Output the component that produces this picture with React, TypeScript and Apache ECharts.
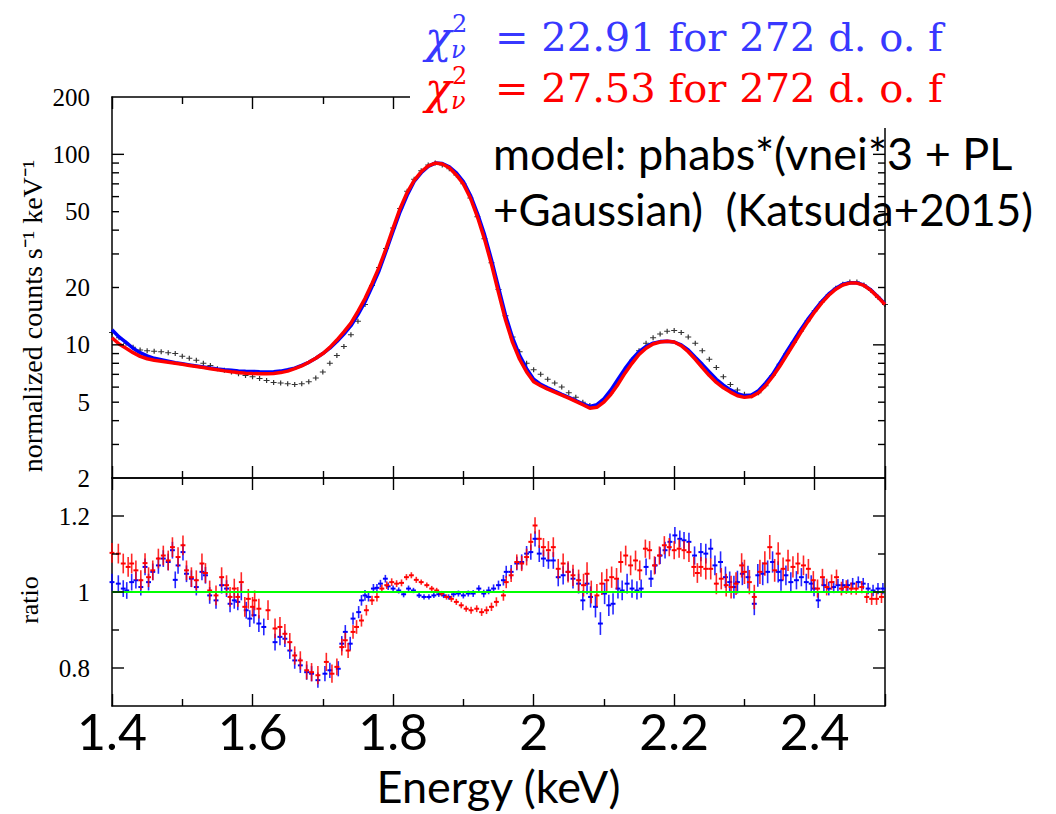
import React, { useEffect, useRef } from "react";
import * as echarts from "echarts";

const E_MIN = 1.4;
const E_MAX = 2.5;

// Energy grid of the spectrum bins (keV)
const spectrumEnergy = [
  1.40, 1.41, 1.42, 1.43, 1.44, 1.45, 1.46, 1.47, 1.48, 1.49,
  1.50, 1.51, 1.52, 1.53, 1.54, 1.55, 1.56, 1.57, 1.58, 1.59,
  1.60, 1.61, 1.62, 1.63, 1.64, 1.65, 1.66, 1.67, 1.68, 1.69,
  1.70, 1.71, 1.72, 1.73, 1.74, 1.75, 1.76, 1.77, 1.78, 1.79,
  1.80, 1.81, 1.82, 1.83, 1.84, 1.85, 1.86, 1.87, 1.88, 1.89,
  1.90, 1.91, 1.92, 1.93, 1.94, 1.95, 1.96, 1.97, 1.98, 1.99,
  2.00, 2.01, 2.02, 2.03, 2.04, 2.05, 2.06, 2.07, 2.08, 2.09,
  2.10, 2.11, 2.12, 2.13, 2.14, 2.15, 2.16, 2.17, 2.18, 2.19,
  2.20, 2.21, 2.22, 2.23, 2.24, 2.25, 2.26, 2.27, 2.28, 2.29,
  2.30, 2.31, 2.32, 2.33, 2.34, 2.35, 2.36, 2.37, 2.38, 2.39,
  2.40, 2.41, 2.42, 2.43, 2.44, 2.45, 2.46, 2.47, 2.48, 2.49,
  2.50,
];

// Observed data (black), normalized counts s^-1 keV^-1
const observedCounts = [
  11.6, 10.9, 10.2, 9.7, 9.4, 9.3, 9.25, 9.2, 9.1, 9.0,
  8.7, 8.5, 8.3, 8.0, 7.8, 7.5, 7.35, 7.2, 7.05, 6.9,
  6.8, 6.65, 6.5, 6.35, 6.3, 6.25, 6.2, 6.25, 6.4, 6.7,
  7.2, 8.0, 8.8, 9.8, 11.3, 13.3, 16.3, 20.5, 25.5, 32,
  41, 52, 64, 74, 82, 88, 90, 88, 84, 78,
  70, 59, 47, 36, 27, 19.5, 14.2, 11, 9.2, 8.0,
  7.4, 7.0, 6.6, 6.3, 6.0, 5.6, 5.3, 5.0, 4.8, 4.8,
  5.1, 5.6, 6.4, 7.3, 8.3, 9.3, 10.2, 10.9, 11.4, 11.8,
  11.9, 11.6, 11.0, 10.2, 9.3, 8.4, 7.6, 6.8, 6.2, 5.8,
  5.5, 5.4, 5.6, 6.1, 6.9, 7.9, 9.0, 10.3, 11.8, 13.4,
  15.1, 16.8, 18.4, 19.8, 20.8, 21.4, 21.4, 20.6, 19.3, 17.8,
  16.3,
];

// Blue model
const blueModel = [
  12.0, 11.0, 10.3, 9.6, 9.1, 8.75, 8.5, 8.35, 8.2, 8.05,
  7.95, 7.85, 7.75, 7.65, 7.55, 7.47, 7.4, 7.35, 7.3, 7.27,
  7.25, 7.22, 7.2, 7.22, 7.28, 7.4, 7.55, 7.8, 8.1, 8.5,
  9.0, 9.6, 10.4, 11.4, 12.6, 14.4, 16.8, 20.2, 24.5, 31,
  39.5, 50, 61, 72, 80, 86.5, 90, 89.5, 86, 80,
  72, 61, 49, 38, 28, 20, 14.3, 10.9, 8.8, 7.5,
  6.6, 6.2, 5.95, 5.72, 5.5, 5.3, 5.1, 4.9, 4.75, 4.85,
  5.2, 5.8, 6.6, 7.5, 8.4, 9.2, 9.8, 10.2, 10.4, 10.45,
  10.35, 10.0, 9.4, 8.6, 7.9, 7.2, 6.6, 6.15, 5.8, 5.55,
  5.4, 5.45, 5.75, 6.3, 7.0, 8.0, 9.2, 10.5, 12.0, 13.6,
  15.2, 16.9, 18.5, 19.8, 20.8, 21.2, 21.2, 20.6, 19.4, 17.9,
  16.4,
];

// Red model
const redModel = [
  10.9, 10.1, 9.6, 9.1, 8.7, 8.45, 8.3, 8.2, 8.1, 8.0,
  7.9, 7.8, 7.7, 7.6, 7.5, 7.4, 7.3, 7.22, 7.15, 7.1,
  7.07, 7.05, 7.05, 7.08, 7.15, 7.28, 7.5, 7.75, 8.1, 8.5,
  9.0, 9.7, 10.6, 11.7, 13.0, 15.0, 17.5, 21, 25.5, 32,
  41, 52, 63, 73, 81, 87, 90, 89, 85, 78,
  70, 59, 47, 36, 26.5, 18.8, 13.5, 10.3, 8.4, 7.2,
  6.4, 6.1, 5.85, 5.65, 5.45, 5.25, 5.05, 4.85, 4.65, 4.7,
  5.0, 5.5, 6.2, 7.1, 8.0, 8.9, 9.6, 10.1, 10.35, 10.45,
  10.35, 9.9, 9.2, 8.4, 7.6, 6.9, 6.35, 5.95, 5.65, 5.4,
  5.3, 5.35, 5.6, 6.1, 6.8, 7.7, 8.8, 10.1, 11.6, 13.2,
  14.9, 16.6, 18.2, 19.6, 20.6, 21.1, 21.1, 20.5, 19.3, 17.8,
  16.3,
];

// Ratio points: [energy (keV), ratio, error]
const blueRatio = [
  [1.400, 1.026, 0.022], [1.409, 1.022, 0.022], [1.416, 1.009, 0.022], [1.421, 1.004, 0.022],
  [1.428, 1.026, 0.022], [1.434, 1.031, 0.022], [1.441, 1.013, 0.022], [1.447, 1.066, 0.022],
  [1.452, 1.026, 0.022], [1.458, 1.053, 0.022], [1.466, 1.070, 0.022], [1.473, 1.088, 0.022],
  [1.480, 1.079, 0.022], [1.486, 1.110, 0.022], [1.490, 1.032, 0.022], [1.494, 1.070, 0.022],
  [1.501, 1.105, 0.022], [1.506, 1.048, 0.022], [1.513, 1.035, 0.022], [1.520, 1.013, 0.022],
  [1.528, 1.053, 0.022], [1.533, 1.044, 0.022], [1.539, 0.991, 0.022], [1.548, 0.978, 0.022],
  [1.556, 1.018, 0.022], [1.563, 1.009, 0.022], [1.568, 0.969, 0.022], [1.574, 0.978, 0.022],
  [1.579, 0.974, 0.022], [1.584, 1.000, 0.022], [1.591, 0.952, 0.022], [1.596, 0.930, 0.022],
  [1.602, 0.939, 0.022], [1.609, 0.917, 0.022], [1.616, 0.908, 0.022], [1.632, 0.868, 0.022],
  [1.639, 0.882, 0.022], [1.646, 0.877, 0.022], [1.653, 0.846, 0.022], [1.660, 0.820, 0.022],
  [1.668, 0.807, 0.02], [1.677, 0.789, 0.02], [1.684, 0.785, 0.02], [1.693, 0.768, 0.02],
  [1.703, 0.785, 0.02], [1.710, 0.794, 0.02], [1.722, 0.798, 0.02], [1.727, 0.864, 0.02],
  [1.732, 0.895, 0.018], [1.739, 0.864, 0.018], [1.743, 0.930, 0.016], [1.751, 0.947, 0.016],
  [1.755, 0.978, 0.014], [1.760, 0.991, 0.014], [1.765, 0.987, 0.012], [1.772, 1.009, 0.012],
  [1.777, 1.011, 0.01], [1.782, 1.022, 0.01], [1.789, 1.035, 0.01], [1.793, 1.015, 0.01],
  [1.800, 1.009, 0.008], [1.808, 1.004, 0.008], [1.815, 0.994, 0.008], [1.822, 1.009, 0.008],
  [1.829, 1.004, 0.007], [1.837, 0.991, 0.007], [1.844, 0.987, 0.007], [1.851, 0.987, 0.007],
  [1.858, 0.991, 0.007], [1.865, 0.994, 0.007], [1.872, 0.991, 0.007], [1.879, 0.987, 0.007],
  [1.886, 0.994, 0.008], [1.893, 0.996, 0.008], [1.900, 0.991, 0.008], [1.907, 0.996, 0.008],
  [1.914, 0.996, 0.009], [1.922, 1.009, 0.009], [1.929, 0.996, 0.01], [1.936, 1.004, 0.01],
  [1.943, 1.009, 0.011], [1.950, 1.018, 0.012], [1.957, 1.031, 0.014], [1.961, 1.053, 0.016],
  [1.968, 1.053, 0.018], [1.976, 1.075, 0.018], [1.983, 1.079, 0.02], [1.990, 1.101, 0.02],
  [1.996, 1.105, 0.02], [2.002, 1.140, 0.02], [2.008, 1.101, 0.022], [2.014, 1.088, 0.022],
  [2.021, 1.083, 0.022], [2.028, 1.083, 0.022], [2.035, 1.039, 0.024], [2.042, 1.044, 0.024],
  [2.049, 1.053, 0.024], [2.056, 1.035, 0.026], [2.064, 1.022, 0.026], [2.070, 0.978, 0.026],
  [2.076, 1.022, 0.028], [2.081, 0.987, 0.028], [2.088, 0.961, 0.028], [2.095, 0.917, 0.03],
  [2.101, 0.996, 0.028], [2.107, 0.965, 0.028], [2.113, 0.969, 0.028], [2.120, 1.009, 0.026],
  [2.126, 1.004, 0.026], [2.133, 1.022, 0.026], [2.140, 1.009, 0.024], [2.147, 1.004, 0.024],
  [2.153, 1.009, 0.024], [2.160, 1.066, 0.022], [2.167, 1.035, 0.022], [2.173, 1.070, 0.022],
  [2.180, 1.096, 0.022], [2.187, 1.110, 0.022], [2.194, 1.132, 0.022], [2.201, 1.149, 0.022],
  [2.208, 1.140, 0.022], [2.214, 1.136, 0.022], [2.221, 1.132, 0.024], [2.229, 1.096, 0.024],
  [2.238, 1.105, 0.024], [2.245, 1.101, 0.026], [2.252, 1.114, 0.026], [2.258, 1.070, 0.026],
  [2.266, 1.079, 0.028], [2.273, 1.039, 0.028], [2.279, 1.026, 0.028], [2.285, 1.013, 0.03],
  [2.290, 1.026, 0.03], [2.297, 1.048, 0.03], [2.305, 1.039, 0.03], [2.314, 0.969, 0.03],
  [2.319, 1.044, 0.03], [2.326, 1.048, 0.03], [2.333, 1.053, 0.03], [2.340, 1.079, 0.028],
  [2.348, 1.053, 0.028], [2.352, 1.031, 0.028], [2.359, 1.044, 0.026], [2.366, 1.026, 0.026],
  [2.374, 1.031, 0.024], [2.381, 1.039, 0.024], [2.388, 1.026, 0.022], [2.395, 1.022, 0.022],
  [2.399, 1.009, 0.02], [2.405, 0.978, 0.02], [2.413, 1.018, 0.018], [2.420, 1.009, 0.018],
  [2.427, 1.013, 0.016], [2.433, 1.018, 0.016], [2.440, 1.018, 0.016], [2.447, 1.018, 0.015],
  [2.454, 1.022, 0.015], [2.462, 1.026, 0.015], [2.469, 1.022, 0.015], [2.476, 1.009, 0.015],
  [2.483, 1.004, 0.015], [2.490, 1.009, 0.015], [2.497, 1.009, 0.015],
];

const redRatio = [
  [1.400, 1.103, 0.026], [1.409, 1.101, 0.026], [1.416, 1.075, 0.026], [1.423, 1.066, 0.026],
  [1.428, 1.075, 0.026], [1.434, 1.057, 0.026], [1.441, 1.031, 0.026], [1.447, 1.076, 0.026],
  [1.452, 1.039, 0.026], [1.458, 1.057, 0.026], [1.466, 1.088, 0.026], [1.473, 1.096, 0.026],
  [1.480, 1.083, 0.026], [1.486, 1.118, 0.026], [1.494, 1.092, 0.026], [1.501, 1.123, 0.026],
  [1.506, 1.057, 0.026], [1.513, 1.039, 0.026], [1.520, 1.031, 0.026], [1.528, 1.075, 0.026],
  [1.533, 1.050, 0.026], [1.539, 1.004, 0.026], [1.548, 0.991, 0.026], [1.556, 1.039, 0.026],
  [1.563, 1.018, 0.026], [1.568, 0.987, 0.026], [1.574, 1.009, 0.026], [1.579, 0.987, 0.026],
  [1.584, 1.026, 0.026], [1.589, 0.961, 0.026], [1.594, 0.982, 0.026], [1.600, 0.961, 0.026],
  [1.603, 0.978, 0.026], [1.609, 0.956, 0.026], [1.622, 0.952, 0.026], [1.632, 0.904, 0.026],
  [1.639, 0.908, 0.026], [1.646, 0.890, 0.026], [1.653, 0.868, 0.024], [1.660, 0.833, 0.024],
  [1.668, 0.820, 0.024], [1.677, 0.794, 0.024], [1.684, 0.789, 0.024], [1.693, 0.781, 0.024],
  [1.705, 0.816, 0.024], [1.713, 0.785, 0.024], [1.720, 0.803, 0.022], [1.727, 0.855, 0.022],
  [1.732, 0.873, 0.02], [1.736, 0.846, 0.02], [1.743, 0.895, 0.018], [1.748, 0.908, 0.018],
  [1.755, 0.925, 0.016], [1.762, 0.952, 0.014], [1.770, 0.978, 0.012], [1.777, 0.987, 0.012],
  [1.784, 1.009, 0.01], [1.791, 1.018, 0.01], [1.798, 1.026, 0.01], [1.805, 1.022, 0.009],
  [1.812, 1.024, 0.009], [1.819, 1.039, 0.008], [1.826, 1.044, 0.008], [1.833, 1.032, 0.008],
  [1.840, 1.026, 0.007], [1.848, 1.018, 0.007], [1.855, 1.009, 0.007], [1.862, 1.004, 0.007],
  [1.869, 0.996, 0.007], [1.876, 0.987, 0.007], [1.883, 0.982, 0.008], [1.890, 0.974, 0.008],
  [1.897, 0.965, 0.008], [1.904, 0.956, 0.008], [1.911, 0.952, 0.009], [1.919, 0.956, 0.009],
  [1.926, 0.947, 0.01], [1.933, 0.952, 0.01], [1.940, 0.961, 0.011], [1.947, 0.974, 0.012],
  [1.957, 0.991, 0.014], [1.961, 1.026, 0.016], [1.968, 1.044, 0.018], [1.976, 1.079, 0.02],
  [1.983, 1.075, 0.02], [1.990, 1.092, 0.022], [1.996, 1.132, 0.022], [2.002, 1.175, 0.022],
  [2.008, 1.140, 0.024], [2.014, 1.118, 0.024], [2.021, 1.110, 0.024], [2.028, 1.118, 0.026],
  [2.035, 1.061, 0.026], [2.042, 1.075, 0.026], [2.049, 1.053, 0.028], [2.056, 1.044, 0.028],
  [2.064, 1.031, 0.028], [2.071, 1.018, 0.03], [2.076, 1.048, 0.03], [2.082, 1.000, 0.03],
  [2.090, 0.991, 0.03], [2.097, 1.022, 0.03], [2.104, 1.031, 0.03], [2.111, 1.039, 0.028],
  [2.118, 1.035, 0.028], [2.124, 1.079, 0.028], [2.131, 1.096, 0.026], [2.138, 1.070, 0.026],
  [2.145, 1.083, 0.026], [2.151, 1.057, 0.026], [2.159, 1.114, 0.024], [2.165, 1.110, 0.024],
  [2.172, 1.070, 0.024], [2.179, 1.096, 0.024], [2.186, 1.123, 0.024], [2.193, 1.118, 0.024],
  [2.200, 1.110, 0.024], [2.207, 1.114, 0.024], [2.214, 1.110, 0.024], [2.221, 1.105, 0.026],
  [2.228, 1.066, 0.026], [2.233, 1.050, 0.026], [2.238, 1.066, 0.026], [2.245, 1.061, 0.028],
  [2.252, 1.061, 0.028], [2.260, 1.022, 0.028], [2.267, 1.035, 0.028], [2.274, 1.018, 0.03],
  [2.281, 1.013, 0.03], [2.288, 1.022, 0.03], [2.296, 1.070, 0.032], [2.300, 1.053, 0.032],
  [2.307, 1.026, 0.032], [2.314, 0.987, 0.032], [2.322, 1.053, 0.032], [2.329, 1.075, 0.032],
  [2.336, 1.118, 0.032], [2.343, 1.057, 0.03], [2.348, 1.101, 0.03], [2.355, 1.061, 0.03],
  [2.362, 1.083, 0.028], [2.369, 1.066, 0.028], [2.376, 1.075, 0.028], [2.384, 1.070, 0.026],
  [2.391, 1.061, 0.026], [2.398, 1.031, 0.024], [2.404, 1.009, 0.024], [2.411, 1.039, 0.022],
  [2.417, 1.013, 0.022], [2.424, 1.026, 0.02], [2.431, 1.039, 0.02], [2.438, 1.009, 0.018],
  [2.445, 1.013, 0.018], [2.452, 1.009, 0.016], [2.459, 1.009, 0.016], [2.467, 1.013, 0.016],
  [2.474, 0.987, 0.016], [2.481, 0.982, 0.016], [2.488, 0.982, 0.016], [2.495, 0.987, 0.016],
];

// Axis ticks / labels
const countTicks = [3, 4, 5, 6, 7, 8, 9, 10, 20, 30, 40, 50, 60, 70, 80, 90, 100];
const countMajorTicks = [10, 100];
const countLabels = [2, 5, 10, 20, 50, 100, 200];
const ratioTicks = [0.8, 0.9, 1.0, 1.1, 1.2];
const ratioMajorTicks = [0.8, 1.0, 1.2];
const ratioLabels = [0.8, 1.0, 1.2];
const UNITY = 1;

const chiBlue = "= 22.91 for 272 d. o. f";
const chiRed = "= 27.53 for 272 d. o. f";
const modelLine1 = "model: phabs*(vnei*3 + PL";
const modelLine2 = "+Gaussian)  (Katsuda+2015)";

const BLUE = "#0000FF";
const RED = "#FF0000";
const BLUE_TEXT = "#3838FF";
const SERIF = '"Liberation Serif", "Times New Roman", serif';
const MATH_SERIF = '"DejaVu Serif", serif';
const SANS = 'Lato, "Open Sans", sans-serif';
const BIN_HALF = 0.0035;

function near(list: number[], v: number) {
  return list.some((t) => Math.abs(t - v) < 1e-6);
}

function tickRenderer(ticks: number[], majors: number[], labels: number[] | null) {
  return (params: any, api: any) => {
    const v = api.value(1) as number;
    const l = api.coord([E_MIN, v]);
    const r = api.coord([E_MAX, v]);
    const children: any[] = [];
    if (near(ticks, v)) {
      const len = near(majors, v) ? 12 : 7;
      children.push({
        type: "line",
        shape: { x1: l[0], y1: l[1], x2: l[0] + len, y2: l[1] },
        style: { stroke: "#000", lineWidth: 1.4 },
      });
      children.push({
        type: "line",
        shape: { x1: r[0] - len, y1: r[1], x2: r[0], y2: r[1] },
        style: { stroke: "#000", lineWidth: 1.4 },
      });
    }
    if (labels && near(labels, v)) {
      children.push({
        type: "text",
        x: l[0] - 22,
        y: l[1],
        style: {
          text: String(v),
          align: "right",
          verticalAlign: "middle",
          fontSize: 25,
          fontFamily: SERIF,
          fill: "#000",
        },
      });
    }
    return { type: "group", children };
  };
}

function ratioRenderer(color: string) {
  return (params: any, api: any) => {
    const e = api.value(0) as number;
    const r = api.value(1) as number;
    const err = api.value(2) as number;
    const c = api.coord([e, r]);
    const top = api.coord([e, r + err]);
    const bot = api.coord([e, r - err]);
    const left = api.coord([e - BIN_HALF, r]);
    const right = api.coord([e + BIN_HALF, r]);
    return {
      type: "group",
      children: [
        {
          type: "line",
          shape: { x1: c[0], y1: top[1], x2: c[0], y2: bot[1] },
          style: { stroke: color, lineWidth: 1.6, opacity: 0.85 },
        },
        {
          type: "line",
          shape: { x1: left[0], y1: c[1], x2: right[0], y2: c[1] },
          style: { stroke: color, lineWidth: 2 },
        },
      ],
    };
  };
}

const axisLineStyle = { lineStyle: { color: "#000", width: 1.5 } };

function xAxisFor(gridIndex: number, position: "top" | "bottom", labels: boolean): any {
  const ax: any = {
    type: "value",
    gridIndex,
    position,
    min: E_MIN,
    max: E_MAX,
    interval: 0.2,
    axisLine: { show: true, onZero: false, ...axisLineStyle },
    axisTick: { show: true, inside: true, length: 12, lineStyle: { color: "#000", width: 1.4 } },
    minorTick: { show: true, splitNumber: 2, length: 7, lineStyle: { color: "#000", width: 1.4 } },
    splitLine: { show: false },
    minorSplitLine: { show: false },
    axisLabel: { show: false },
  };
  if (labels) {
    ax.axisLabel = {
      show: true,
      margin: 0,
      color: "#000",
      fontFamily: SANS,
      fontSize: 50,
      formatter: (v: number) => (Math.abs(v - E_MAX) < 1e-6 ? "" : String(Math.round(v * 10) / 10)),
    };
    ax.name = "Energy (keV)";
    ax.nameLocation = "middle";
    ax.nameGap = 60;
    ax.nameTextStyle = { color: "#000", fontFamily: SANS, fontSize: 45, lineHeight: 40 };
  }
  return ax;
}

function buildOption(): any {
  const blueLine = spectrumEnergy.map((e, i) => [e, blueModel[i]]);
  const redLine = spectrumEnergy.map((e, i) => [e, redModel[i]]);
  const blackPts = spectrumEnergy.map((e, i) => [e, observedCounts[i]]);
  const countTickData = Array.from(new Set([...countTicks, ...countLabels]))
    .sort((a, b) => a - b)
    .map((v) => [E_MIN, v]);
  const ratioTickData = ratioTicks.map((v) => [E_MIN, v]);

  const textZ = 51;

  return {
    animation: false,
    backgroundColor: "#ffffff",
    grid: [
      { left: 112, top: 97, width: 773, height: 381, containLabel: false, outerBoundsMode: "none" },
      { left: 112, top: 478, width: 773, height: 228, containLabel: false, outerBoundsMode: "none" },
    ],
    xAxis: [
      xAxisFor(0, "bottom", false),
      xAxisFor(0, "top", false),
      xAxisFor(1, "bottom", true),
      xAxisFor(1, "top", false),
    ],
    yAxis: [
      {
        type: "log",
        gridIndex: 0,
        position: "left",
        min: 2,
        max: 200,
        logBase: 10,
        axisLine: { show: true, ...axisLineStyle },
        axisTick: { show: false },
        axisLabel: { show: false },
        splitLine: { show: false },
      },
      {
        type: "log",
        gridIndex: 0,
        position: "right",
        min: 2,
        max: 200,
        logBase: 10,
        axisLine: { show: true, ...axisLineStyle },
        axisTick: { show: false },
        axisLabel: { show: false },
        splitLine: { show: false },
      },
      {
        type: "value",
        gridIndex: 1,
        position: "left",
        min: 0.7,
        max: 1.3,
        interval: 0.1,
        axisLine: { show: true, ...axisLineStyle },
        axisTick: { show: false },
        splitLine: { show: false },
        axisLabel: {
          show: true,
          margin: 22,
          color: "#000",
          fontFamily: SERIF,
          fontSize: 25,
          formatter: (v: number) => (near(ratioLabels, v) ? String(Math.round(v * 10) / 10) : ""),
        },
      },
      {
        type: "value",
        gridIndex: 1,
        position: "right",
        min: 0.7,
        max: 1.3,
        interval: 0.1,
        axisLine: { show: true, ...axisLineStyle },
        axisTick: { show: false },
        axisLabel: { show: false },
        splitLine: { show: false },
      },
    ],
    series: [
      {
        type: "scatter",
        name: "data",
        xAxisIndex: 0,
        yAxisIndex: 0,
        data: blackPts,
        symbol: "path://M4,0 H6 V4 H10 V6 H6 V10 H4 V6 H0 V4 H4 Z",
        symbolSize: [6, 5],
        itemStyle: { color: "#000" },
        z: 2,
        silent: true,
      },
      {
        type: "line",
        name: "blue model",
        xAxisIndex: 0,
        yAxisIndex: 0,
        data: blueLine,
        showSymbol: false,
        lineStyle: { color: BLUE, width: 3.5 },
        z: 3,
        silent: true,
      },
      {
        type: "line",
        name: "red model",
        xAxisIndex: 0,
        yAxisIndex: 0,
        data: redLine,
        showSymbol: false,
        lineStyle: { color: RED, width: 3.5 },
        z: 4,
        silent: true,
      },
      {
        type: "custom",
        name: "count ticks",
        xAxisIndex: 0,
        yAxisIndex: 0,
        data: countTickData,
        encode: { x: 0, y: 1 },
        renderItem: tickRenderer(countTicks, countMajorTicks, countLabels),
        clip: false,
        silent: true,
        z: 10,
      },
      {
        type: "custom",
        name: "blue ratio",
        xAxisIndex: 2,
        yAxisIndex: 2,
        data: blueRatio,
        encode: { x: 0, y: 1 },
        renderItem: ratioRenderer(BLUE),
        silent: true,
        z: 3,
      },
      {
        type: "custom",
        name: "red ratio",
        xAxisIndex: 2,
        yAxisIndex: 2,
        data: redRatio,
        encode: { x: 0, y: 1 },
        renderItem: ratioRenderer(RED),
        silent: true,
        z: 4,
        markLine: {
          silent: true,
          symbol: ["none", "none"],
          label: { show: false },
          lineStyle: { color: "#00FF00", width: 2, type: "solid" },
          data: [{ yAxis: UNITY }],
        },
      },
      {
        type: "custom",
        name: "ratio ticks",
        xAxisIndex: 2,
        yAxisIndex: 2,
        data: ratioTickData,
        encode: { x: 0, y: 1 },
        renderItem: tickRenderer(ratioTicks, ratioMajorTicks, null),
        clip: false,
        silent: true,
        z: 10,
      },
    ],
    graphic: [
      {
        type: "text",
        x: 32,
        y: 316,
        rotation: Math.PI / 2,
        z: textZ,
        style: {
          text: "normalized counts s\u207B\u00B9 keV\u207B\u00B9",
          align: "center",
          verticalAlign: "middle",
          fontSize: 28,
          fontFamily: SERIF,
          fill: "#000",
        },
      },
      {
        type: "text",
        x: 29,
        y: 600,
        rotation: Math.PI / 2,
        z: textZ,
        style: {
          text: "ratio",
          align: "center",
          verticalAlign: "middle",
          fontSize: 26,
          fontFamily: SERIF,
          fill: "#000",
        },
      },
      // white box behind the fit-statistics text (covers the plot frame there)
      { type: "rect", z: 50, shape: { x: 410, y: 58, width: 540, height: 70 }, style: { fill: "#ffffff" } },
      // blue chi line
      { type: "text", z: textZ, x: 425, y: 37, style: { text: "\u03C7", align: "left", verticalAlign: "middle", fontSize: 44, fontStyle: "italic", fontFamily: MATH_SERIF, fill: BLUE_TEXT } },
      { type: "text", z: textZ, x: 452, y: 24, style: { text: "2", align: "left", verticalAlign: "middle", fontSize: 24, fontFamily: MATH_SERIF, fill: BLUE_TEXT } },
      { type: "text", z: textZ, x: 451, y: 50, style: { text: "\u03BD", align: "left", verticalAlign: "middle", fontSize: 24, fontStyle: "italic", fontFamily: MATH_SERIF, fill: BLUE_TEXT } },
      { type: "text", z: textZ, x: 495, y: 37, style: { text: chiBlue, align: "left", verticalAlign: "middle", fontSize: 40, fontFamily: MATH_SERIF, fill: BLUE_TEXT } },
      // red chi line
      { type: "text", z: textZ, x: 425, y: 88, style: { text: "\u03C7", align: "left", verticalAlign: "middle", fontSize: 44, fontStyle: "italic", fontFamily: MATH_SERIF, fill: RED } },
      { type: "text", z: textZ, x: 452, y: 76, style: { text: "2", align: "left", verticalAlign: "middle", fontSize: 24, fontFamily: MATH_SERIF, fill: RED } },
      { type: "text", z: textZ, x: 451, y: 101, style: { text: "\u03BD", align: "left", verticalAlign: "middle", fontSize: 24, fontStyle: "italic", fontFamily: MATH_SERIF, fill: RED } },
      { type: "text", z: textZ, x: 495, y: 88, style: { text: chiRed, align: "left", verticalAlign: "middle", fontSize: 40, fontFamily: MATH_SERIF, fill: RED } },
      // model text
      { type: "text", z: textZ, x: 493, y: 153, style: { text: modelLine1, align: "left", verticalAlign: "middle", fontSize: 45, fontFamily: SANS, fill: "#000" } },
      { type: "text", z: textZ, x: 493, y: 209, style: { text: modelLine2, align: "left", verticalAlign: "middle", fontSize: 44, fontFamily: SANS, fill: "#000" } },
    ],
  };
}

export default function App() {
  const ref = useRef<HTMLDivElement>(null);
  useEffect(() => {
    if (!ref.current) return;
    const chart = echarts.init(ref.current, null, { renderer: "svg" });
    chart.setOption(buildOption());
    return () => chart.dispose();
  }, []);
  return (
    <div
      ref={ref}
      style={{ position: "fixed", left: 0, top: 0, width: 1056, height: 814, background: "#fff" }}
    />
  );
}
